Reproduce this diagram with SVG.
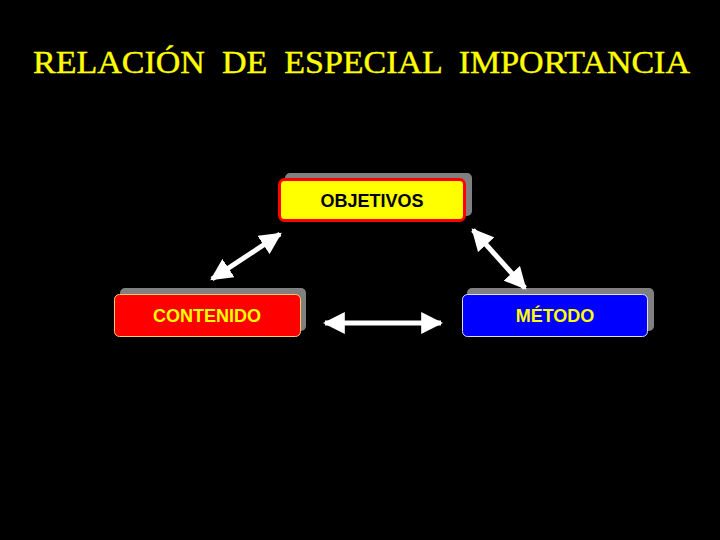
<svg xmlns="http://www.w3.org/2000/svg" width="720" height="540" viewBox="0 0 720 540">
<style>
.shadow{fill:#808080}
.lbl{font-family:"Liberation Sans",Arial,sans-serif;font-size:18px;font-weight:bold;text-anchor:middle}
.conn{stroke:#fff;stroke-width:5;fill:none;marker-start:url(#ah);marker-end:url(#ah)}
</style>
<defs>
<marker id="ah" viewBox="0 0 10 10" refX="9" refY="5" markerWidth="4.4" markerHeight="4.4" orient="auto-start-reverse" markerUnits="strokeWidth">
<path d="M0,0 L10,5 L0,10 Z" fill="#fff"/>
</marker>
</defs>
<rect width="720" height="540" fill="#000"/>
<text x="33" y="73" textLength="657" lengthAdjust="spacingAndGlyphs" font-family="'Liberation Serif','Times New Roman',serif" font-size="32" fill="#ffff00" stroke="#ffff00" stroke-width="0.4" xml:space="preserve">RELACIÓN  DE  ESPECIAL  IMPORTANCIA</text>
<g id="objetivos">
<rect class="shadow" x="285" y="173" width="187" height="43" rx="5"/>
<rect x="279.5" y="179.5" width="185" height="41" rx="5" fill="#ffff00" stroke="#ff0000" stroke-width="3"/>
<text class="lbl" x="372" y="207" fill="#000" font-size="17">OBJETIVOS</text>
</g>
<g id="contenido">
<rect class="shadow" x="120" y="288" width="186" height="43" rx="5"/>
<rect x="114.5" y="294.5" width="186" height="42" rx="5" fill="#ff0000" stroke="#ffcc66" stroke-width="1"/>
<text class="lbl" x="207" y="322" fill="#ffff00">CONTENIDO</text>
</g>
<g id="metodo">
<rect class="shadow" x="467" y="288" width="187" height="43" rx="5"/>
<rect x="462.5" y="294.5" width="185" height="42" rx="5" fill="#0000ff" stroke="#ddddff" stroke-width="1"/>
<text class="lbl" x="555" y="322" fill="#ffff00">MÉTODO</text>
</g>
<g id="connectors">
<line class="conn" x1="212" y1="279" x2="280" y2="234"/>
<line class="conn" x1="473" y1="230" x2="525" y2="288"/>
<line class="conn" x1="325" y1="323" x2="441" y2="323"/>
</g>
</svg>
